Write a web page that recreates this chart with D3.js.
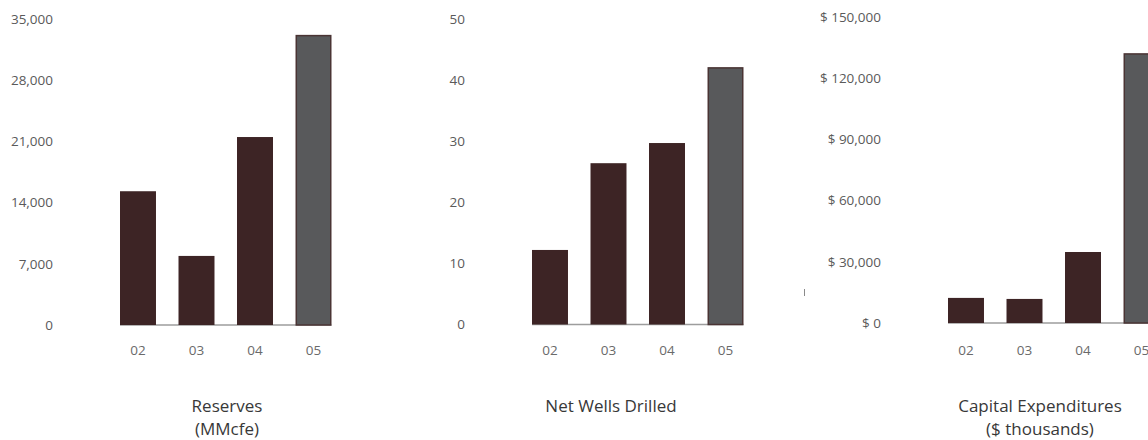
<!DOCTYPE html>
<html><head><meta charset="utf-8">
<script src="https://cdn.jsdelivr.net/npm/d3@7"></script>
<style>
html,body{margin:0;padding:0;background:#fff;}
svg{display:block;}
text{font-family:"Open Sans",sans-serif;}
</style></head>
<body>
<svg id="c" width="1148" height="440"></svg>
<script>
const categories = ["02","03","04","05"];
const reserves = [15300, 7900, 21500, 33100];
const netWells = [12.2, 26.4, 29.7, 42.0];
const capex = [12300, 11800, 34800, 131900];
const reservesTicks = [0, 7000, 14000, 21000, 28000, 35000];
const wellsTicks = [0, 10, 20, 30, 40, 50];
const capexTicks = [0, 30000, 60000, 90000, 120000, 150000];

const panels = [
  {values: reserves, ticks: reservesTicks, max: 35000, fmt: d => d3.format(",")(d),
   x0: 120, y0: 325, y1: 19, title: ["Reserves", "(MMcfe)"], tx: 227},
  {values: netWells, ticks: wellsTicks, max: 50, fmt: d => String(d),
   x0: 532, y0: 324.5, y1: 19, title: ["Net Wells Drilled"], tx: 611},
  {values: capex, ticks: capexTicks, max: 150000, fmt: d => "$ " + d3.format(",")(d),
   x0: 948, y0: 323, y1: 17, title: ["Capital Expenditures", "($ thousands)"], tx: 1040}
];

const svg = d3.select("#c");
const dark = "#3d2425", grey = "#58595b";

panels.forEach(p => {
  const x = d3.scaleBand().domain(categories).range([p.x0, p.x0 + 211.5]).paddingInner(0.385).paddingOuter(0);
  const y = d3.scaleLinear().domain([0, p.max]).range([p.y0, p.y1]);
  const g = svg.append("g");

  g.append("line").attr("x1", x.range()[0]).attr("x2", x.range()[1])
    .attr("y1", y(0)).attr("y2", y(0)).attr("stroke", "#9d9d9d").attr("stroke-width", 1.5);

  g.selectAll(".yt").data(p.ticks).join("text")
    .attr("x", p.x0 - 67).attr("y", d => y(d)).attr("dy", "0.36em")
    .attr("text-anchor", "end").attr("font-size", 13.5).attr("fill", "#5a5a5a")
    .text(p.fmt);

  g.selectAll(".bar").data(p.values).join("rect")
    .attr("x", (d, i) => x(categories[i]) + (i === 3 ? 0.75 : 0))
    .attr("y", d => y(d))
    .attr("width", (d, i) => x.bandwidth() - (i === 3 ? 1.5 : 0))
    .attr("height", d => y(0) - y(d))
    .attr("fill", (d, i) => i === 3 ? grey : dark)
    .attr("stroke", (d, i) => i === 3 ? "#4a3434" : "none")
    .attr("stroke-width", 1.5);

  g.selectAll(".xt").data(categories).join("text")
    .attr("x", d => x(d) + x.bandwidth() / 2).attr("y", 350).attr("dy", "0.36em")
    .attr("text-anchor", "middle").attr("font-size", 13.5).attr("fill", "#6a6a6a")
    .text(d => d);

  g.selectAll(".ti").data(p.title).join("text")
    .attr("x", p.tx).attr("y", (d, i) => 406 + i * 23).attr("dy", "0.36em")
    .attr("text-anchor", "middle").attr("font-size", 17).attr("fill", "#383838")
    .text(d => d);
});

svg.append("line").attr("x1", 804.5).attr("x2", 804.5).attr("y1", 289).attr("y2", 296)
  .attr("stroke", "#8a8a8a").attr("stroke-width", 1);
</script>
</body></html>
